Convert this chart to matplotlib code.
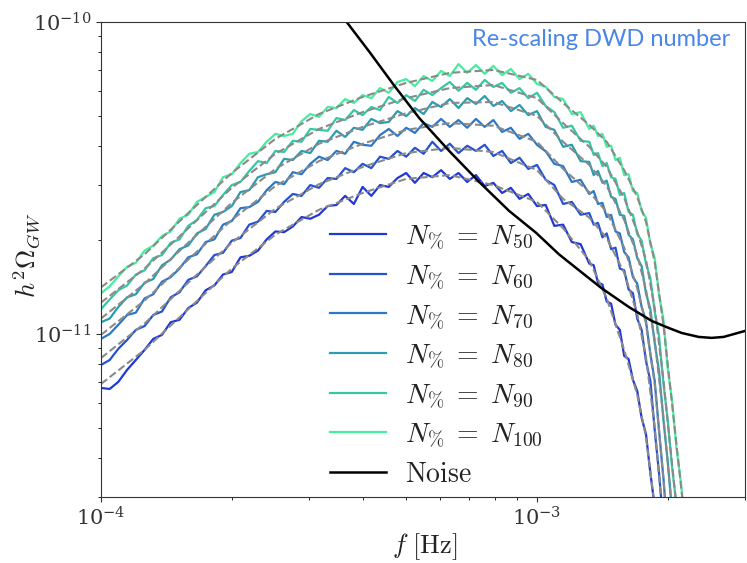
import numpy as np
import matplotlib
matplotlib.use('Agg')
import matplotlib.pyplot as plt
from matplotlib.ticker import NullFormatter

# ---------------- data ----------------
# frequency grid of the simulated spectra [Hz]
freq = np.array([
    1.000e-4, 1.047e-4, 1.096e-4, 1.148e-4, 1.202e-4, 1.259e-4, 1.318e-4, 1.380e-4, 1.445e-4, 1.514e-4,
    1.585e-4, 1.660e-4, 1.738e-4, 1.820e-4, 1.905e-4, 1.995e-4, 2.089e-4, 2.188e-4, 2.291e-4, 2.399e-4,
    2.512e-4, 2.630e-4, 2.754e-4, 2.884e-4, 3.020e-4, 3.162e-4, 3.311e-4, 3.467e-4, 3.631e-4, 3.802e-4,
    3.981e-4, 4.169e-4, 4.365e-4, 4.571e-4, 4.786e-4, 5.012e-4, 5.248e-4, 5.495e-4, 5.754e-4, 6.026e-4,
    6.310e-4, 6.607e-4, 6.918e-4, 7.244e-4, 7.586e-4, 7.943e-4, 8.318e-4, 8.710e-4, 9.120e-4, 9.550e-4,
    1.000e-3, 1.047e-3, 1.096e-3, 1.148e-3, 1.202e-3, 1.259e-3, 1.318e-3,
    1.349e-3, 1.380e-3, 1.413e-3, 1.445e-3, 1.479e-3, 1.514e-3, 1.549e-3, 1.585e-3, 1.622e-3, 1.660e-3,
    1.698e-3, 1.738e-3, 1.778e-3, 1.820e-3, 1.862e-3, 1.905e-3, 1.950e-3, 1.995e-3, 2.042e-3, 2.089e-3,
    2.138e-3, 2.188e-3, 2.239e-3, 2.291e-3,
])

# h^2 Omega_GW of the DWD foreground, in units of 1e-11
omega_n50 = [
    0.671, 0.666, 0.702, 0.767, 0.825, 0.889, 0.964, 0.993, 1.09, 1.11,
    1.21, 1.26, 1.38, 1.43, 1.55, 1.58, 1.76, 1.78, 1.85, 2.01,
    2.13, 2.12, 2.21, 2.37, 2.34, 2.41, 2.57, 2.59, 2.77, 2.61,
    2.96, 2.77, 3.00, 2.96, 3.16, 3.28, 3.05, 3.28, 3.18, 3.35,
    3.14, 3.28, 3.07, 3.23, 2.98, 3.05, 2.83, 2.94, 2.71, 2.81,
    2.57, 2.59, 2.22, 2.24, 1.97, 1.94, 1.68, 1.66, 1.46, 1.44,
    1.27, 1.25, 1.07, 1.03, 0.850, 0.831, 0.712, 0.656, 0.538, 0.478,
    0.358, 0.279, 0.203, 0.146, 0.104, 0.075, 0.055, 0.0403, 0.0296, 0.0217, 0.0159,
]
omega_n60 = [
    0.795, 0.825, 0.896, 0.957, 1.03, 1.06, 1.15, 1.18, 1.31, 1.36,
    1.49, 1.53, 1.65, 1.79, 1.82, 1.99, 2.03, 2.24, 2.29, 2.48,
    2.46, 2.65, 2.81, 2.77, 3.00, 2.94, 3.16, 3.14, 3.40, 3.30,
    3.51, 3.40, 3.70, 3.64, 3.86, 3.70, 3.95, 3.78, 4.13, 3.86,
    4.07, 3.80, 4.01, 3.86, 4.04, 3.72, 3.86, 3.53, 3.67, 3.38,
    3.48, 3.12, 3.00, 2.61, 2.65, 2.41, 2.44, 2.24, 2.27, 2.04,
    2.10, 1.87, 1.89, 1.62, 1.60, 1.39, 1.35, 1.12, 1.03, 0.819,
    0.707, 0.492, 0.358, 0.244, 0.169, 0.121, 0.0882, 0.0647, 0.0475, 0.0348, 0.0255,
]
omega_n70 = [
    0.964, 1.00, 1.07, 1.15, 1.17, 1.30, 1.34, 1.47, 1.52, 1.62,
    1.76, 1.80, 1.97, 2.01, 2.24, 2.30, 2.53, 2.55, 2.65, 2.89,
    3.07, 3.02, 3.30, 3.25, 3.51, 3.70, 3.61, 3.86, 3.78, 4.13,
    4.04, 4.01, 4.34, 4.54, 4.31, 4.58, 4.41, 4.74, 4.61, 4.89,
    4.61, 4.85, 4.58, 4.89, 4.61, 4.85, 4.44, 4.58, 4.22, 4.38,
    4.04, 3.85, 3.51, 3.45, 3.07, 3.12, 2.81, 2.87, 2.61, 2.63,
    2.37, 2.41, 2.13, 2.10, 1.83, 1.76, 1.52, 1.45, 1.22, 1.10,
    0.862, 0.707, 0.492, 0.345, 0.227, 0.163, 0.117, 0.0857, 0.0628, 0.0461, 0.0338,
]
omega_n80 = [
    1.09, 1.12, 1.22, 1.31, 1.34, 1.46, 1.50, 1.66, 1.73, 1.87,
    1.92, 2.10, 2.17, 2.41, 2.46, 2.57, 2.85, 2.89, 3.18, 3.25,
    3.30, 3.64, 3.61, 3.86, 3.80, 4.16, 4.13, 4.48, 4.28, 4.58,
    4.51, 4.89, 4.74, 4.78, 5.18, 4.99, 5.30, 5.07, 5.54, 5.34,
    5.66, 5.30, 5.70, 5.46, 5.79, 5.38, 5.58, 5.18, 5.42, 5.03,
    5.18, 4.61, 4.51, 3.98, 4.04, 3.58, 3.56, 3.23, 3.33, 3.05,
    3.10, 2.75, 2.71, 2.41, 2.39, 2.08, 2.01, 1.75, 1.65, 1.35,
    1.20, 0.936, 0.761, 0.530, 0.389, 0.267, 0.196, 0.144, 0.105, 0.0773, 0.0566,
]
omega_n90 = [
    1.20, 1.29, 1.38, 1.43, 1.55, 1.60, 1.75, 1.79, 1.96, 2.01,
    2.22, 2.32, 2.53, 2.57, 2.79, 3.00, 3.07, 3.33, 3.58, 3.53,
    3.86, 3.83, 4.16, 4.13, 4.54, 4.51, 4.48, 4.92, 4.85, 5.22,
    5.03, 5.34, 5.22, 5.75, 5.50, 5.83, 5.58, 6.06, 5.83, 6.14,
    6.42, 6.02, 6.38, 6.06, 6.52, 6.19, 6.38, 5.93, 6.14, 5.70,
    5.93, 5.38, 5.14, 4.58, 4.65, 4.16, 4.13, 3.75, 3.80, 3.45,
    3.53, 3.18, 3.14, 2.79, 2.83, 2.46, 2.41, 2.09, 1.99, 1.68,
    1.51, 1.18, 0.986, 0.696, 0.526, 0.372, 0.283, 0.205, 0.150, 0.110, 0.0807,
]
omega_n100 = [
    1.35, 1.42, 1.53, 1.64, 1.69, 1.85, 1.92, 2.06, 2.13, 2.34,
    2.41, 2.65, 2.75, 2.85, 3.18, 3.25, 3.53, 3.78, 3.83, 4.13,
    4.38, 4.31, 4.38, 4.81, 5.07, 4.96, 5.34, 5.30, 5.66, 5.50,
    5.83, 5.70, 6.14, 5.93, 6.42, 6.56, 6.23, 6.71, 6.47, 6.97,
    6.71, 7.33, 6.87, 7.28, 6.82, 7.23, 6.76, 7.07, 6.56, 6.82,
    6.33, 6.20, 5.75, 5.66, 5.07, 5.14, 4.54, 4.65, 4.31, 4.38,
    3.98, 4.01, 3.61, 3.67, 3.23, 3.25, 2.87, 2.83, 2.48, 2.36,
    1.94, 1.75, 1.34, 1.11, 0.772, 0.609, 0.431, 0.335, 0.240, 0.180, 0.135,
]

# smooth fits to each spectrum (dashed), units of 1e-11
fit_freq = [1.000e-4, 1.259e-4, 1.585e-4, 1.995e-4, 2.512e-4, 3.162e-4, 3.981e-4, 5.012e-4,
            6.310e-4, 7.943e-4, 1.000e-3, 1.148e-3, 1.318e-3, 1.445e-3, 1.585e-3, 1.698e-3,
            1.778e-3, 1.862e-3, 1.950e-3, 2.042e-3, 2.138e-3, 2.239e-3]
fit_n50 = [0.691, 0.889, 1.20, 1.62, 2.08, 2.50, 2.83, 3.14, 3.23, 3.00, 2.65,
           2.18, 1.72, 1.30, 0.889, 0.638, 0.468, 0.279, 0.146, 0.075, 0.0403, 0.0217]
fit_n60 = [0.837, 1.08, 1.46, 1.96, 2.52, 3.02, 3.43, 3.80, 3.95, 3.83, 3.35,
           2.71, 2.36, 2.03, 1.57, 1.16, 0.844, 0.503, 0.244, 0.121, 0.0647, 0.0348]
fit_n70 = [0.993, 1.28, 1.73, 2.32, 2.98, 3.58, 4.07, 4.51, 4.74, 4.65, 4.13,
           3.38, 2.85, 2.46, 1.89, 1.40, 1.08, 0.691, 0.340, 0.163, 0.0857, 0.0461]
fit_n80 = [1.12, 1.45, 1.96, 2.63, 3.38, 4.07, 4.61, 5.10, 5.50, 5.54, 5.00,
           4.13, 3.48, 2.98, 2.32, 1.79, 1.39, 0.957, 0.542, 0.271, 0.144, 0.0773]
fit_n90 = [1.26, 1.62, 2.18, 2.94, 3.78, 4.54, 5.14, 5.70, 6.14, 6.28, 5.70,
           4.74, 3.98, 3.43, 2.73, 2.13, 1.73, 1.21, 0.712, 0.380, 0.205, 0.110]
fit_n100 = [1.41, 1.80, 2.44, 3.28, 4.22, 5.07, 5.75, 6.38, 6.87, 7.02, 6.52,
            5.50, 4.68, 4.13, 3.35, 2.75, 2.29, 1.70, 1.07, 0.592, 0.329, 0.182]

# instrument noise curve, units of 1e-11
noise_freq = [3.34e-4, 3.66e-4, 4.13e-4, 4.71e-4, 5.37e-4, 6.29e-4, 7.37e-4, 8.63e-4, 9.95e-4,
              1.123e-3, 1.248e-3, 1.408e-3, 1.624e-3, 1.834e-3, 2.005e-3, 2.147e-3, 2.349e-3,
              2.515e-3, 2.679e-3, 3.000e-3]
noise_omega = [11.8, 10.0, 8.01, 6.24, 4.92, 3.86, 3.07, 2.48, 2.11,
               1.80, 1.60, 1.40, 1.22, 1.10, 1.045, 1.007, 0.978,
               0.971, 0.978, 1.022]

pct_labels = ['50', '60', '70', '80', '90', '100']
spectra = [omega_n50, omega_n60, omega_n70, omega_n80, omega_n90, omega_n100]
fits = [fit_n50, fit_n60, fit_n70, fit_n80, fit_n90, fit_n100]
line_colors = ['#2038d8', '#2452d0', '#2c78c8', '#2a9db0', '#34c9a3', '#45ee9f']

# ---------------- plot ----------------
plt.rcParams['mathtext.fontset'] = 'cm'
plt.rcParams['font.family'] = 'serif'
plt.rcParams['font.serif'] = ['DejaVu Serif']

fig = plt.figure(figsize=(7.47, 5.63), dpi=100)
ax = fig.add_axes([101 / 747, 1 - 497 / 563, 644 / 747, 475 / 563])

for vals, lab, c in zip(spectra, pct_labels, line_colors):
    ax.plot(freq, np.array(vals) * 1e-11, color=c, lw=1.6,
            label=r'$N_{\%}\;=\;N_{' + lab + '}$')
for fv in fits:
    ax.plot(fit_freq, np.array(fv) * 1e-11, ls='--', color='#8a8a8a', lw=1.5)
ax.plot(noise_freq, np.array(noise_omega) * 1e-11, color='k', lw=1.8,
        label=r'$\mathrm{Noise}$')

ax.set_xscale('log')
ax.set_yscale('log')
ax.set_xlim(1e-4, 3e-3)
ax.set_ylim(3e-12, 1e-10)
ax.xaxis.set_minor_formatter(NullFormatter())
ax.yaxis.set_minor_formatter(NullFormatter())
ax.tick_params(labelsize=15, colors='#333333')
for sp in ax.spines.values():
    sp.set_color('#333333')

fig.text(27 / 747, 1 - 255 / 563, r'$h^2\Omega_{GW}$', rotation=90,
         ha='center', va='center', fontsize=19, color='#222222')
fig.text(425 / 747, 1 - 547 / 563, r'$f\ [\mathrm{Hz}]$',
         ha='center', va='center', fontsize=19, color='#222222')

leg = ax.legend(loc='upper left', bbox_to_anchor=(330 / 747, 1 - 223 / 563),
                bbox_transform=fig.transFigure, frameon=False, fontsize=20,
                handlelength=2.0, handletextpad=0.7, labelspacing=0.4,
                borderpad=0, borderaxespad=0)
for t in leg.get_texts():
    t.set_color('#222222')

fig.text(730 / 747, 1 - 39 / 563, 'Re-scaling DWD number', ha='right', va='center',
         fontsize=17, family='Lato', color='#4a86e8')

fig.savefig('out.png', dpi=100)
